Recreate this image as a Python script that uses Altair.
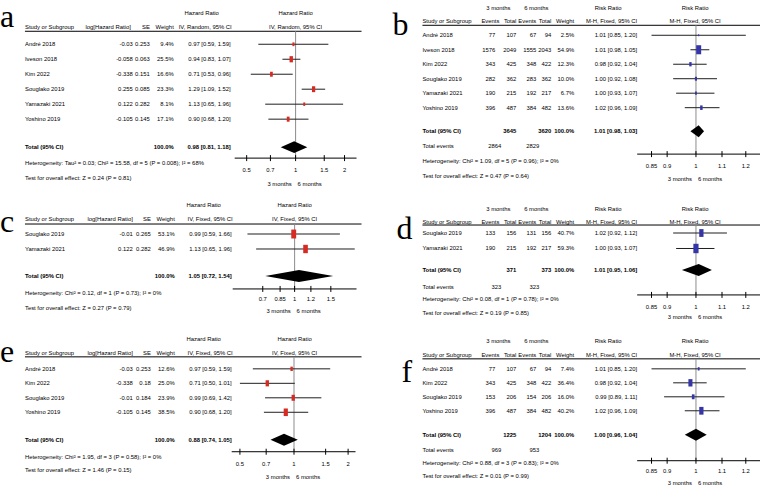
import altair as alt
import pandas as pd

FONT = "Liberation Sans, Arial, sans-serif"
SERIF = "Liberation Serif, Times New Roman, serif"
FS = 5.9
RED = "#d62a22"
BLUE = "#3535a8"
GREY = "#8c8c8c"
BOX = "M-0.55,-1L0.55,-1L0.55,1L-0.55,1Z"

# ---------------- data: panel a ----------------
a_study = ["André 2018", "Iveson 2018", "Kim 2022", "Souglako 2019", "Yamazaki 2021", "Yoshino 2019"]
a_loghr = ["-0.03", "-0.058", "-0.338", "0.255", "0.122", "-0.105"]
a_se = ["0.253", "0.063", "0.151", "0.085", "0.282", "0.145"]
a_weight = [9.4, 25.5, 16.6, 23.3, 8.1, 17.1]
a_est = [0.97, 0.94, 0.71, 1.29, 1.13, 0.90]
a_lo = [0.59, 0.83, 0.53, 1.09, 0.65, 0.68]
a_hi = [1.59, 1.07, 0.96, 1.52, 1.96, 1.20]
a_total = [0.98, 0.81, 1.18]
a_het = "Heterogeneity: Tau² = 0.03; Chi² = 15.58, df = 5 (P = 0.008); I² = 68%"
a_test = "Test for overall effect: Z = 0.24 (P = 0.81)"

# ---------------- data: panel b ----------------
b_study = ["André 2018", "Iveson 2018", "Kim 2022", "Souglako 2019", "Yamazaki 2021", "Yoshino 2019"]
b_ev3 = [77, 1576, 343, 282, 190, 396]
b_tot3 = [107, 2049, 425, 362, 215, 487]
b_ev6 = [67, 1555, 348, 283, 192, 384]
b_tot6 = [94, 2043, 422, 362, 217, 482]
b_weight = [2.5, 54.9, 12.3, 10.0, 6.7, 13.6]
b_est = [1.01, 1.01, 0.98, 1.00, 1.00, 1.02]
b_lo = [0.85, 0.98, 0.92, 0.92, 0.93, 0.96]
b_hi = [1.20, 1.05, 1.04, 1.08, 1.07, 1.09]
b_sum3 = [3645, 2864]
b_sum6 = [3620, 2829]
b_total = [1.01, 0.98, 1.03]
b_het = "Heterogeneity: Chi² = 1.09, df = 5 (P = 0.96); I² = 0%"
b_test = "Test for overall effect: Z = 0.47 (P = 0.64)"

# ---------------- data: panel c ----------------
c_study = ["Souglako 2019", "Yamazaki 2021"]
c_loghr = ["-0.01", "0.122"]
c_se = ["0.265", "0.282"]
c_weight = [53.1, 46.9]
c_est = [0.99, 1.13]
c_lo = [0.59, 0.65]
c_hi = [1.66, 1.96]
c_total = [1.05, 0.72, 1.54]
c_het = "Heterogeneity: Chi² = 0.12, df = 1 (P = 0.73); I² = 0%"
c_test = "Test for overall effect: Z = 0.27 (P = 0.79)"

# ---------------- data: panel d ----------------
d_study = ["Souglako 2019", "Yamazaki 2021"]
d_ev3 = [133, 190]
d_tot3 = [156, 215]
d_ev6 = [131, 192]
d_tot6 = [156, 217]
d_weight = [40.7, 59.3]
d_est = [1.02, 1.00]
d_lo = [0.92, 0.93]
d_hi = [1.12, 1.07]
d_sum3 = [371, 323]
d_sum6 = [373, 323]
d_total = [1.01, 0.95, 1.06]
d_het = "Heterogeneity: Chi² = 0.08, df = 1 (P = 0.78); I² = 0%"
d_test = "Test for overall effect: Z = 0.19 (P = 0.85)"

# ---------------- data: panel e ----------------
e_study = ["André 2018", "Kim 2022", "Souglako 2019", "Yoshino 2019"]
e_loghr = ["-0.03", "-0.338", "-0.01", "-0.105"]
e_se = ["0.253", "0.18", "0.184", "0.145"]
e_weight = [12.6, 25.0, 23.9, 38.5]
e_est = [0.97, 0.71, 0.99, 0.90]
e_lo = [0.59, 0.50, 0.69, 0.68]
e_hi = [1.59, 1.01, 1.42, 1.20]
e_total = [0.88, 0.74, 1.05]
e_het = "Heterogeneity: Chi² = 1.95, df = 3 (P = 0.58); I² = 0%"
e_test = "Test for overall effect: Z = 1.46 (P = 0.15)"

# ---------------- data: panel f ----------------
f_study = ["André 2018", "Kim 2022", "Souglako 2019", "Yoshino 2019"]
f_ev3 = [77, 343, 153, 396]
f_tot3 = [107, 425, 206, 487]
f_ev6 = [67, 348, 154, 384]
f_tot6 = [94, 422, 206, 482]
f_weight = [7.4, 36.4, 16.0, 40.2]
f_est = [1.01, 0.98, 0.99, 1.02]
f_lo = [0.85, 0.92, 0.89, 0.96]
f_hi = [1.20, 1.04, 1.11, 1.09]
f_sum3 = [1225, 969]
f_sum6 = [1204, 953]
f_total = [1.00, 0.96, 1.04]
f_het = "Heterogeneity: Chi² = 0.88, df = 3 (P = 0.83); I² = 0%"
f_test = "Test for overall effect: Z = 0.01 (P = 0.99)"

hr_ticks_wide = [0.5, 0.7, 1, 1.5, 2]
hr_ticks_narrow = [0.7, 0.85, 1, 1.2, 1.5]
rr_ticks = [0.85, 0.9, 1, 1.1, 1.2]

dummy = pd.DataFrame({"k": [0]})


def ci_str(e, l, h):
    return f"{e:.2f} [{l:.2f}, {h:.2f}]"


def build(kind, d, L):
    W, H, y0, step = L["W"], L["H"], L["y0"], L["step"]

    def r(px):
        return (px - y0) / step

    ysc = alt.Scale(domain=[r(0), r(H)], range=[0, H], nice=False, zero=False)
    xsc = alt.Scale(type="log", domain=L["dom"], range=L["rng"], nice=False, zero=False)

    def Y(px):
        return alt.Y(datum=r(px), scale=ysc, axis=None)

    layers = []

    def lab(text, x, ypx, align="left", bold=False, size=FS, font=FONT, baseline="middle"):
        layers.append(
            alt.Chart(dummy)
            .mark_text(text=text, align=align, baseline=baseline, fontSize=size, font=font,
                       fontWeight="bold" if bold else "normal", color="black")
            .encode(x=alt.value(x), y=Y(ypx))
        )

    n = len(d["study"])
    df = pd.DataFrame({
        "row": list(range(n)),
        "study": d["study"],
        "wt": [f"{w:.1f}%" for w in d["weight"]],
        "ci": [ci_str(e, l, h) for e, l, h in zip(d["est"], d["lo"], d["hi"])],
        "est": d["est"], "lo": d["lo"], "hi": d["hi"], "weight": d["weight"],
    })
    if kind == "HR":
        df["loghr"] = d["loghr"]
        df["se"] = d["se"]
    else:
        df["ev3"] = [str(v) for v in d["ev3"]]
        df["tot3"] = [str(v) for v in d["tot3"]]
        df["ev6"] = [str(v) for v in d["ev6"]]
        df["tot6"] = [str(v) for v in d["tot6"]]

    def col(field, x, align="right"):
        layers.append(
            alt.Chart(df)
            .mark_text(align=align, baseline="middle", fontSize=FS, font=FONT, color="black")
            .encode(x=alt.value(x), y=alt.Y("row:Q", scale=ysc, axis=None), text=f"{field}:N")
        )

    C = L["cols"]
    sx = C["study"]
    # panel letter
    lab(L["letter"], L["lx"], L["lb"], "left", size=32, font=SERIF, baseline="alphabetic")

    # headers
    if kind == "HR":
        lab("Hazard Ratio", L["ttl"], L["h1"], "center")
        lab("Hazard Ratio", L["fttl"], L["h1"], "center")
        lab("Study or Subgroup", sx, L["h2"])
        lab("log[Hazard Ratio]", C["hlog"], L["h2"], "right")
        lab("SE", C["se"], L["h2"], "right")
        lab("Weight", C["wt"], L["h2"], "right")
        lab(L["method"], C["hci"], L["h2"], "right")
        lab(L["method"], L["fttl"], L["h2"], "center")
        col("study", sx, "left")
        col("loghr", C["log"])
        col("se", C["se"])
        col("wt", C["wt"])
        col("ci", C["ci"])
    else:
        lab("3 months", L["m3c"], L["h1"], "center")
        lab("6 months", L["m6c"], L["h1"], "center")
        lab("Risk Ratio", L["ttl"], L["h1"], "center")
        lab("Risk Ratio", L["fttl"], L["h1"], "center")
        lab("Study or Subgroup", sx, L["h2"])
        lab("Events", C["hev3"], L["h2"], "right")
        lab("Total", C["tot3"], L["h2"], "right")
        lab("Events", C["ev6"], L["h2"], "right")
        lab("Total", C["tot6"], L["h2"], "right")
        lab("Weight", C["wt"], L["h2"], "right")
        lab(L["method"], C["hci"], L["h2"], "right")
        lab(L["method"], L["fttl"], L["h2"], "center")
        col("study", sx, "left")
        col("ev3", C["ev3"])
        col("tot3", C["tot3"])
        col("ev6", C["ev6"])
        col("tot6", C["tot6"])
        col("wt", C["wt"])
        col("ci", C["ci"])

    # header underline
    layers.append(
        alt.Chart(dummy).mark_rule(color="black", strokeWidth=1)
        .encode(x=alt.value(L["ulx"][0]), x2=alt.value(L["ulx"][1]), y=Y(L["ul"]))
    )

    # total rows
    te, tl, th = d["total"]
    lab("Total (95% CI)", sx, L["tot"], bold=True)
    lab("100.0%", C["wt"], L["tot"], "right", bold=True)
    lab(ci_str(te, tl, th), C["ci"], L["tot"], "right", bold=True)
    if kind == "RR":
        lab(str(d["sum3"][0]), C["tot3"], L["tot"], "right", bold=True)
        lab(str(d["sum6"][0]), C["tot6"], L["tot"], "right", bold=True)
        lab("Total events", sx, L["totev"])
        lab(str(d["sum3"][1]), C["tev3"], L["totev"], "right")
        lab(str(d["sum6"][1]), C["tev6"], L["totev"], "right")
    lab(d["het"], sx, L["het"])
    lab(d["test"], sx, L["test"])

    # forest: reference line at 1
    layers.append(
        alt.Chart(dummy).mark_rule(color=GREY, strokeWidth=1)
        .encode(x=alt.X(datum=1, scale=xsc, axis=None), y=Y(L["ul"]), y2=alt.Y2(datum=r(L["axis"])))
    )
    # confidence intervals
    layers.append(
        alt.Chart(df).mark_rule(color="#1e1e1e", strokeWidth=1)
        .encode(x=alt.X("lo:Q", scale=xsc, axis=None), x2="hi:Q",
                y=alt.Y("row:Q", scale=ysc, axis=None))
    )
    # weight boxes
    layers.append(
        alt.Chart(df).mark_point(shape=BOX, filled=True, color=L["color"], opacity=1, strokeWidth=0)
        .encode(x=alt.X("est:Q", scale=xsc, axis=None), y=alt.Y("row:Q", scale=ysc, axis=None),
                size=alt.Size("weight:Q", scale=alt.Scale(domain=[0, 100], range=[0, 150]), legend=None))
    )
    # diamond
    tr = r(L["tot"])
    hh = 6.0 / step
    ddf = pd.DataFrame({"x": [tl, te, th], "yt": [tr, tr - hh, tr], "yb": [tr, tr + hh, tr]})
    layers.append(
        alt.Chart(ddf).mark_area(color="black", opacity=1)
        .encode(x=alt.X("x:Q", scale=xsc, axis=None), y=alt.Y("yt:Q", scale=ysc, axis=None),
                y2="yb:Q")
    )
    # axis
    layers.append(
        alt.Chart(dummy).mark_rule(color="black", strokeWidth=1)
        .encode(x=alt.X(datum=L["dom"][0], scale=xsc, axis=None), x2=alt.X2(datum=L["dom"][1]),
                y=Y(L["axis"]))
    )
    tdf = pd.DataFrame({"t": L["ticks"], "lab": [f"{t:g}" for t in L["ticks"]]})
    layers.append(
        alt.Chart(tdf).mark_rule(color="black", strokeWidth=1)
        .encode(x=alt.X("t:Q", scale=xsc, axis=None), y=Y(L["axis"] - 3),
                y2=alt.Y2(datum=r(L["axis"] + 3)))
    )
    layers.append(
        alt.Chart(tdf).mark_text(align="center", baseline="middle", fontSize=FS, font=FONT, color="black")
        .encode(x=alt.X("t:Q", scale=xsc, axis=None), y=Y(L["tlab"]), text="lab:N")
    )
    layers.append(
        alt.Chart(dummy).mark_text(text="3 months", align="right", baseline="middle", fontSize=FS,
                                   font=FONT, dx=-4, color="black")
        .encode(x=alt.X(datum=1, scale=xsc, axis=None), y=Y(L["months"]))
    )
    layers.append(
        alt.Chart(dummy).mark_text(text="6 months", align="left", baseline="middle", fontSize=FS,
                                   font=FONT, dx=2, color="black")
        .encode(x=alt.X(datum=1, scale=xsc, axis=None), y=Y(L["months"]))
    )
    return alt.layer(*layers).properties(width=W, height=H)


HR_COLS_A = {"study": 25, "hlog": 131, "log": 133, "se": 150, "wt": 174, "ci": 231, "hci": 232}
HR_COLS_CE = {"study": 25, "hlog": 133, "log": 133, "se": 151, "wt": 175, "ci": 232, "hci": 233}
RR_COLS = {"study": 43, "hev3": 120, "ev3": 116, "tot3": 137, "ev6": 157, "tot6": 172,
           "wt": 195, "ci": 258, "hci": 258, "tev3": 122, "tev6": 160}

pa = build("HR", dict(study=a_study, loghr=a_loghr, se=a_se, weight=a_weight, est=a_est, lo=a_lo,
                      hi=a_hi, total=a_total, het=a_het, test=a_test),
           dict(W=380, H=190, y0=42, step=15, letter="a", lx=0, lb=25, h1=11, h2=25, ul=29,
                ulx=(25, 362), tot=145, het=161, test=176, axis=156, tlab=168, months=182,
                dom=[0.422, 2.37], rng=[235, 357], ticks=hr_ticks_wide, ttl=202, fttl=296,
                method="IV, Random, 95% CI", cols=HR_COLS_A, color=RED))

pb = build("RR", dict(study=b_study, ev3=b_ev3, tot3=b_tot3, ev6=b_ev6, tot6=b_tot6, weight=b_weight,
                      est=b_est, lo=b_lo, hi=b_hi, sum3=b_sum3, sum6=b_sum6, total=b_total,
                      het=b_het, test=b_test),
           dict(W=381, H=190, y0=33, step=14.5, letter="b", lx=13, lb=33, h1=6, h2=19, ul=23,
                ulx=(43, 381), tot=129, totev=144, het=159, test=174, axis=152, tlab=164, months=177,
                dom=[0.8065, 1.264], rng=[258, 381], ticks=rr_ticks, ttl=229, fttl=316, m3c=119,
                m6c=157, method="M-H, Fixed, 95% CI", cols=RR_COLS, color=BLUE))

pc = build("HR", dict(study=c_study, loghr=c_loghr, se=c_se, weight=c_weight, est=c_est, lo=c_lo,
                      hi=c_hi, total=c_total, het=c_het, test=c_test),
           dict(W=380, H=132, y0=42, step=15, letter="c", lx=0, lb=40, h1=13, h2=27, ul=32,
                ulx=(25, 362), tot=84, het=101, test=116, axis=97, tlab=107, months=119,
                dom=[0.5, 2.0], rng=[233, 357], ticks=hr_ticks_narrow, ttl=204, fttl=295,
                method="IV, Fixed, 95% CI", cols=HR_COLS_CE, color=RED))

pd_ = build("RR", dict(study=d_study, ev3=d_ev3, tot3=d_tot3, ev6=d_ev6, tot6=d_tot6, weight=d_weight,
                       est=d_est, lo=d_lo, hi=d_hi, sum3=d_sum3, sum6=d_sum6, total=d_total,
                       het=d_het, test=d_test),
            dict(W=381, H=132, y0=41, step=15.5, letter="d", lx=17, lb=47, h1=17, h2=30, ul=33,
                 ulx=(43, 381), tot=78, totev=95, het=107, test=121, axis=103, tlab=115, months=125,
                 dom=[0.8065, 1.264], rng=[258, 381], ticks=rr_ticks, ttl=229, fttl=316, m3c=119,
                 m6c=157, method="M-H, Fixed, 95% CI", cols=RR_COLS, color=BLUE))

pe = build("HR", dict(study=e_study, loghr=e_loghr, se=e_se, weight=e_weight, est=e_est, lo=e_lo,
                      hi=e_hi, total=e_total, het=e_het, test=e_test),
           dict(W=380, H=163, y0=45, step=14.5, letter="e", lx=0, lb=38, h1=15, h2=29, ul=33,
                ulx=(25, 362), tot=116, het=133, test=146, axis=128, tlab=140, months=153,
                dom=[0.45, 2.2], rng=[232, 356], ticks=hr_ticks_wide, ttl=204, fttl=295,
                method="IV, Fixed, 95% CI", cols=HR_COLS_CE, color=RED))

pf = build("RR", dict(study=f_study, ev3=f_ev3, tot3=f_tot3, ev6=f_ev6, tot6=f_tot6, weight=f_weight,
                      est=f_est, lo=f_lo, hi=f_hi, sum3=f_sum3, sum6=f_sum6, total=f_total,
                      het=f_het, test=f_test),
           dict(W=381, H=163, y0=45, step=14, letter="f", lx=22, lb=58, h1=17, h2=31, ul=35,
                ulx=(43, 381), tot=111, totev=126, het=139, test=152, axis=137, tlab=147, months=159,
                dom=[0.8065, 1.264], rng=[258, 381], ticks=rr_ticks, ttl=229, fttl=316, m3c=119,
                m6c=157, method="M-H, Fixed, 95% CI", cols=RR_COLS, color=BLUE))

top = alt.hconcat(pa, pb, spacing=0)
mid = alt.hconcat(pc, pd_, spacing=0)
bot = alt.hconcat(pe, pf, spacing=0)
chart = (
    alt.vconcat(top, mid, bot, spacing=0)
    .properties(padding=0, background="white")
    .configure_view(stroke=None)
)
chart.save("out.html", embed_options={"renderer": "svg", "actions": False})
